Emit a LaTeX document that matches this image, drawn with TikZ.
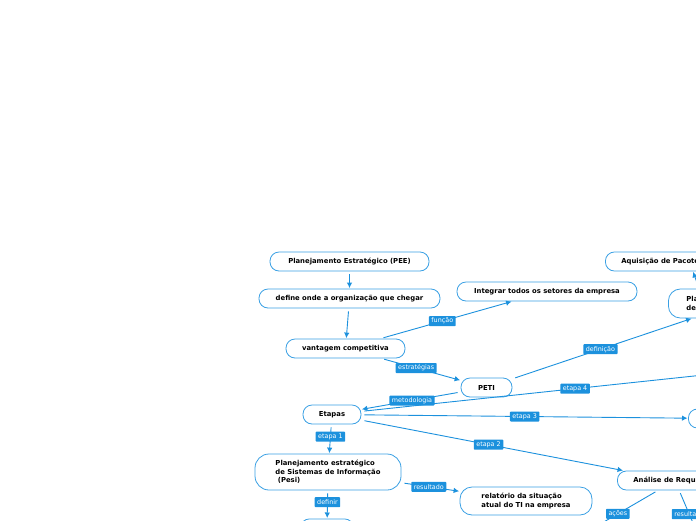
\documentclass[tikz,border=0pt]{standalone}
\usepackage{fontspec}
\setmainfont{DejaVu Sans}
\usetikzlibrary{calc,arrows.meta}
\definecolor{mapblue}{RGB}{28,145,221}
\definecolor{mapline}{RGB}{58,160,228}
\tikzset{
  topicbox/.style={draw=mapline, fill=white, rounded corners=9pt, line width=0.8pt,
    minimum height=19pt, inner sep=2pt, font=\bfseries\fontsize{6.85}{8.5}\selectfont},
  edgetag/.style={fill=mapblue, text=white, rounded corners=0.8pt, inner xsep=2.5pt,
    inner ysep=1.2pt, minimum height=10pt, font=\fontsize{6.4}{7}\selectfont},
  link/.style={draw=mapblue, line width=0.9pt, -{Latex[length=5.5pt,width=5.5pt]},
    shorten <=3pt, shorten >=0.5pt}
}

\begin{document}
\begin{tikzpicture}[x=1pt,y=-1pt]
  \useasboundingbox (0,0) rectangle (696,520);
  \clip (0,0) rectangle (696,520);

  % left column
  \node [topicbox, minimum width=159pt] (pee) at (349.5,261.5) {Planejamento Estratégico (PEE)};
  \node [topicbox, minimum width=181pt] (def) at (349.5,298.5) {define onde a organização que chegar};
  \node [topicbox, minimum width=119pt] (vant) at (345.5,348.5) {vantagem competitiva};
  \node [topicbox, minimum width=180pt] (integ) at (547,291.5) {Integrar todos os setores da empresa};
  \node [topicbox, minimum width=51pt] (peti) at (486.5,387.5) {PETI};
  \node [topicbox, minimum width=58pt] (etapas) at (332,414.5) {Etapas};
  \node [topicbox, minimum width=146pt, minimum height=36pt, rounded corners=14pt, align=left] (pesi) at (328,472) {Planejamento estratégico\\de Sistemas de Informação\\~(Pesi)};
  \node [topicbox, minimum width=132pt, minimum height=28pt, rounded corners=12pt, align=left] (relat) at (526,501) {relatório da situação\\atual do TI na empresa};
  \node [topicbox, minimum width=53pt, anchor=north] (pesidef) at (327,518.5) {};

  % right side, cut by the frame
  \node [topicbox, anchor=west, inner xsep=16pt] (aquis) at (605,261.5) {Aquisição de Pacotes};
  \node [topicbox, anchor=west, inner xsep=18pt, minimum height=29pt, rounded corners=12pt, align=left] (plan) at (668,303.5) {Planejamento\\de Sistemas};
  \node [topicbox, anchor=west, minimum width=60pt] (imp) at (688,418.5) {};
  \node [topicbox, anchor=west, inner xsep=16pt] (analise) at (617,480.5) {Análise de Requisitos};
  \coordinate (step4) at (760,369);
  \coordinate (acoes) at (590,530);
  \coordinate (result) at (696,530);

  \draw [link] (pee) -- (def);
  \draw [link] (def) -- (vant);
  \draw [link] (vant) -- node [edgetag, pos=0.47] {função} (integ);
  \draw [link] (vant) -- node [edgetag, pos=0.44] {estratégias} (peti);
  \draw [link] (peti) -- node [edgetag, pos=0.49] {metodologia} (etapas);
  \draw [link] (peti) -- node [edgetag, pos=0.49] {definição} ($(plan.south west)+(24,0)$);
  \draw [link] ($(plan.north west)+(31,0)$) -- ($(aquis.south west)+(88,0)$);
  \draw [link] (etapas) -- node [edgetag, pos=0.536] {etapa 4} (step4);
  \draw [link] (etapas) -- node [edgetag, pos=0.5] {etapa 3} (imp);
  \draw [link] (etapas) -- node [edgetag, pos=0.485] {etapa 2} (analise);
  \draw [link] (etapas) -- node [edgetag, pos=0.42] {etapa 1} (pesi);
  \draw [link] (pesi) -- node [edgetag, pos=0.47] {resultado} (relat);
  \draw [link] (pesi) -- node [edgetag, pos=0.42] {definir} (pesidef);
  \draw [link] (analise) -- node [edgetag, pos=0.59] {ações} (acoes);
  \draw [link] (analise) -- node [edgetag, pos=0.6] {resultado} (result);
\end{tikzpicture}
\end{document}
